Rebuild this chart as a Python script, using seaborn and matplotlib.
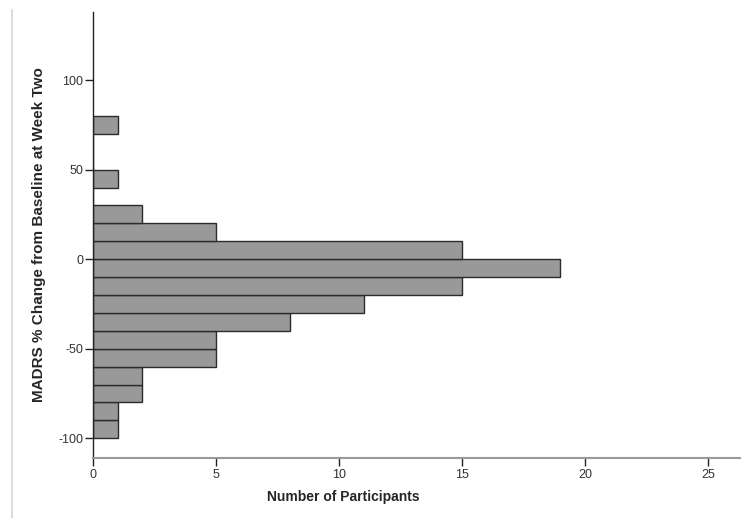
import matplotlib
matplotlib.use("Agg")
import matplotlib.pyplot as plt
from matplotlib.lines import Line2D
import numpy as np
import seaborn as sns

# Lower edges of the 10-point bins and the participant count in each
bin_lows = [-100, -90, -80, -70, -60, -50, -40, -30, -20, -10, 0, 10, 20, 30, 40, 50, 60, 70]
counts = [1, 1, 2, 2, 5, 5, 8, 11, 15, 19, 15, 5, 2, 0, 1, 0, 0, 1]
bin_width = 10

y_ticks = [-100, -50, 0, 50, 100]
x_ticks = [0, 5, 10, 15, 20, 25]

sns.set_theme(style="white")
plt.rcParams["font.family"] = ["Liberation Sans", "DejaVu Sans"]
plt.rcParams["axes.unicode_minus"] = False

fig = plt.figure(figsize=(7.48, 5.18), dpi=100)
ax = fig.add_axes([93 / 748, 1 - 458 / 518, (740 - 93) / 748, (458 - 12) / 518])

edges = list(bin_lows) + [bin_lows[-1] + bin_width]
mids = [b + bin_width / 2 for b in bin_lows]
sns.histplot(y=mids, weights=counts, bins=edges, ax=ax,
             color="#999999", alpha=1.0, edgecolor="#2b2b2b", linewidth=1.0)

ax.set_xlim(0, 26.3)
ax.set_ylim(-111, 138)
ax.set_xticks(x_ticks)
ax.set_yticks(y_ticks)

ax.spines["top"].set_visible(False)
ax.spines["right"].set_visible(False)
ax.spines["left"].set_color("#222222")
ax.spines["left"].set_linewidth(1.0)
ax.spines["bottom"].set_color("#999999")
ax.spines["bottom"].set_linewidth(1.5)

ax.tick_params(axis="y", direction="out", length=6, width=1, color="#222222",
               labelsize=9, labelcolor="#333333", pad=1, left=True)
ax.tick_params(axis="x", direction="out", length=6, width=1, color="#222222",
               labelsize=9, labelcolor="#333333", pad=2, bottom=True)

ax.set_xlabel("Number of Participants", fontsize=10, fontweight="bold")
ax.xaxis.set_label_coords((343 - 93) / 647, -(497 - 458) / 446, transform=ax.transAxes)
ax.xaxis.label.set_verticalalignment("center")
ax.set_ylabel("MADRS % Change from Baseline at Week Two", fontsize=11,
              fontweight="bold")
ax.yaxis.set_label_coords(-(93 - 39) / 647, (458 - 235) / 446, transform=ax.transAxes)
ax.yaxis.label.set_verticalalignment("center")

# light frame line along the left edge
fig.add_artist(Line2D([12 / 748, 12 / 748], [0, 1 - 10 / 518],
                      transform=fig.transFigure, color="#dddddd", linewidth=1.5))

fig.savefig("out.png", dpi=100, facecolor="white")
